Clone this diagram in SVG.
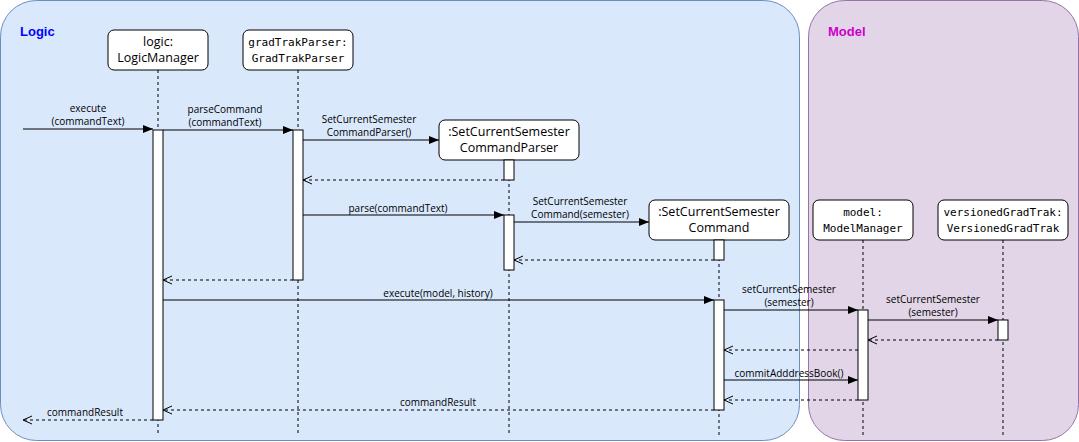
<svg xmlns="http://www.w3.org/2000/svg" width="1079" height="442" viewBox="0 0 1079 442">
<defs>
<marker id="filled" viewBox="0 0 10 10" refX="10" refY="5" markerWidth="10" markerHeight="10" markerUnits="userSpaceOnUse" orient="auto">
<path d="M0,1 L10,5 L0,9 Z" fill="#000"/>
</marker>
<marker id="open" viewBox="0 0 10 10" refX="9" refY="5" markerWidth="10" markerHeight="10" markerUnits="userSpaceOnUse" orient="auto">
<path d="M0,1 L9,5 L0,9" fill="none" stroke="#000" stroke-width="1"/>
</marker>
</defs>
<style>
.frame-logic{fill:#dae8fc;stroke:#6c8ebf;stroke-width:1}
.frame-model{fill:#e1d5e7;stroke:#9673a6;stroke-width:1}
.title{font-family:"Liberation Sans",Arial,sans-serif;font-weight:bold;font-size:13px}
.box{fill:#fff;stroke:#000;stroke-width:1}
.act{fill:#fff;stroke:#000;stroke-width:1}
.life{stroke:#000;stroke-width:1;stroke-dasharray:3 3;fill:none}
.name{font-family:"Open Sans","Noto Sans",sans-serif;font-size:12.5px;text-anchor:middle;fill:#000}
.mono{font-family:"DejaVu Sans Mono","Liberation Mono",monospace;font-size:11px;text-anchor:middle;fill:#000}
.msg{stroke:#000;stroke-width:1;fill:none;marker-end:url(#filled)}
.ret{stroke:#000;stroke-width:1;fill:none;stroke-dasharray:3 3;marker-end:url(#open)}
.lbl{font-family:"Open Sans","Noto Sans",sans-serif;font-size:10px;text-anchor:middle;fill:#000}
</style>
<rect class="frame-logic" x="0.5" y="0.5" width="799" height="440" rx="36" ry="36"/>
<rect class="frame-model" x="808.5" y="0.5" width="270" height="440" rx="36" ry="36"/>
<text class="title" x="20" y="36" fill="#0000ff">Logic</text>
<text class="title" x="828" y="36" fill="#cc00cc">Model</text>

<g id="logicManager">
<line class="life" x1="158" y1="70" x2="158" y2="436"/>
<rect class="box" x="108" y="30" width="100" height="40" rx="6"/>
<text class="name" x="158" y="46">logic:</text>
<text class="name" x="158" y="62">LogicManager</text>
<rect class="act" x="153" y="130" width="10" height="290"/>
</g>
<g id="gradTrakParser">
<line class="life" x1="298" y1="70" x2="298" y2="436"/>
<rect class="box" x="243" y="30" width="110" height="40" rx="6"/>
<text class="mono" x="298" y="46">gradTrakParser:</text>
<text class="mono" x="298" y="62">GradTrakParser</text>
<rect class="act" x="293" y="130" width="10" height="150"/>
</g>
<g id="commandParser">
<line class="life" x1="509" y1="160" x2="509" y2="436"/>
<rect class="box" x="439" y="120" width="140" height="40" rx="6"/>
<text class="name" x="509" y="136">:SetCurrentSemester</text>
<text class="name" x="509" y="152">CommandParser</text>
<rect class="act" x="504" y="160" width="10" height="20"/>
<rect class="act" x="504" y="215" width="10" height="55"/>
</g>
<g id="command">
<line class="life" x1="719" y1="240" x2="719" y2="436"/>
<rect class="box" x="649" y="200" width="140" height="40" rx="6"/>
<text class="name" x="719" y="216">:SetCurrentSemester</text>
<text class="name" x="719" y="232">Command</text>
<rect class="act" x="714" y="240" width="10" height="20"/>
<rect class="act" x="714" y="300" width="10" height="110"/>
</g>
<g id="modelManager">
<line class="life" x1="863" y1="240" x2="863" y2="436"/>
<rect class="box" x="813" y="200" width="100" height="40" rx="6"/>
<text class="mono" x="863" y="216">model:</text>
<text class="mono" x="863" y="232">ModelManager</text>
<rect class="act" x="858" y="310" width="10" height="90"/>
</g>
<g id="versionedGradTrak">
<line class="life" x1="1003" y1="240" x2="1003" y2="436"/>
<rect class="box" x="938" y="200" width="130" height="40" rx="6"/>
<text class="mono" x="1003" y="216">versionedGradTrak:</text>
<text class="mono" x="1003" y="232">VersionedGradTrak</text>
<rect class="act" x="998" y="320" width="10" height="20"/>
</g>

<g id="connectors">
<line class="msg" x1="23" y1="129" x2="153" y2="129"/>
<text class="lbl" x="88" y="112">execute</text>
<text class="lbl" x="88" y="125">(commandText)</text>

<line class="msg" x1="163" y1="130" x2="293" y2="130"/>
<text class="lbl" x="225" y="113">parseCommand</text>
<text class="lbl" x="225" y="126">(commandText)</text>

<line class="msg" x1="303" y1="140" x2="439" y2="140"/>
<text class="lbl" x="369" y="123">SetCurrentSemester</text>
<text class="lbl" x="369" y="136">CommandParser()</text>

<line class="ret" x1="504" y1="180" x2="303" y2="180"/>

<line class="msg" x1="303" y1="215" x2="504" y2="215"/>
<text class="lbl" x="398" y="212">parse(commandText)</text>

<line class="msg" x1="514" y1="222" x2="649" y2="222"/>
<text class="lbl" x="580" y="205">SetCurrentSemester</text>
<text class="lbl" x="580" y="218">Command(semester)</text>

<line class="ret" x1="714" y1="260" x2="514" y2="260"/>
<line class="ret" x1="293" y1="280" x2="163" y2="280"/>

<line class="msg" x1="163" y1="300" x2="714" y2="300"/>
<text class="lbl" x="438" y="297">execute(model, history)</text>

<line class="msg" x1="724" y1="310" x2="858" y2="310"/>
<text class="lbl" x="789" y="293">setCurrentSemester</text>
<text class="lbl" x="789" y="306">(semester)</text>

<line class="msg" x1="868" y1="320" x2="998" y2="320"/>
<text class="lbl" x="933" y="303">setCurrentSemester</text>
<text class="lbl" x="933" y="316">(semester)</text>

<line class="ret" x1="998" y1="340" x2="868" y2="340"/>
<line class="ret" x1="858" y1="350" x2="724" y2="350"/>

<line class="msg" x1="724" y1="380" x2="858" y2="380"/>
<text class="lbl" x="789" y="377">commitAdddressBook()</text>

<line class="ret" x1="858" y1="400" x2="724" y2="400"/>

<line class="ret" x1="714" y1="410" x2="163" y2="410"/>
<text class="lbl" x="438" y="406">commandResult</text>

<line class="ret" x1="153" y1="420" x2="23" y2="420"/>
<text class="lbl" x="85" y="416">commandResult</text>
</g>
</svg>
